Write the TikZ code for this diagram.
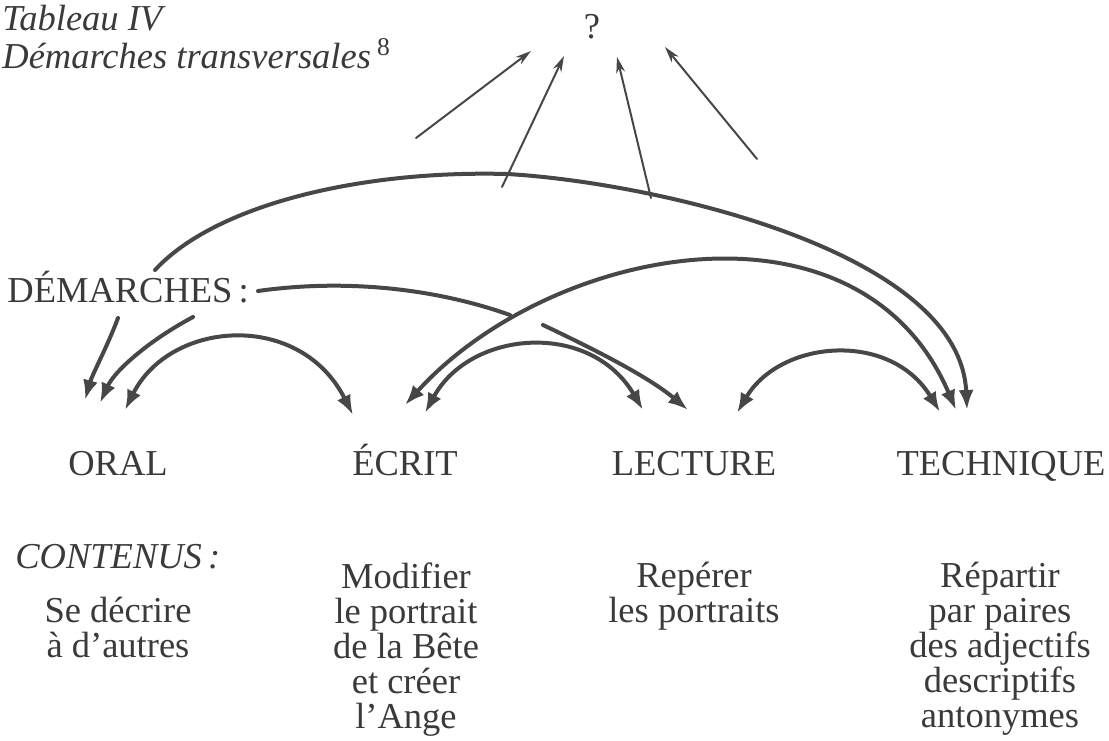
\documentclass[tikz,border=0pt]{standalone}
\usepackage{fontspec}
\setmainfont{Liberation Serif}
\usepackage{tikz}
\usetikzlibrary{arrows.meta}
\definecolor{ink}{HTML}{474747}
\definecolor{txt}{HTML}{3A3A3A}
\def\txtsize{\fontsize{18.25}{17.5}\selectfont}
\def\grosbout{Latex[length=10pt,width=7.5pt]}

\begin{document}
\begin{tikzpicture}[x=0.5pt,y=-0.5pt,
  lbl/.style={inner sep=0pt,text=txt,font=\txtsize},
  trait/.style={draw=ink,line width=2pt,line cap=round},
  fleche/.style={trait,-{\grosbout}},
  allerretour/.style={trait,{\grosbout}-{\grosbout}},
  vers/.style={draw=ink,line width=1pt,line cap=round,-{Stealth[length=8pt,width=4.5pt]}}]
\useasboundingbox (0,0) rectangle (1109,740);
% titres
\node[lbl,anchor=base west,font=\txtsize\itshape] (titre) at (2,30) {Tableau IV};
\node[lbl,anchor=base west,font=\txtsize\itshape] (soustitre) at (2,68) {Démarches transversales\,\textsuperscript{\upshape 8}};
\node[lbl,anchor=base] (q) at (592,38) {?};
\node[lbl,anchor=base west] (dem) at (7,302) {DÉMARCHES\,:};
% domaines
\node[lbl,anchor=base] (oral) at (118,475) {ORAL};
\node[lbl,anchor=base] (ecrit) at (405,475) {ÉCRIT};
\node[lbl,anchor=base] (lecture) at (694,475) {LECTURE};
\node[lbl,anchor=base] (technique) at (1001,475) {TECHNIQUE};
% contenus
\node[lbl,anchor=base west,font=\txtsize\itshape] (cont) at (15,568) {CONTENUS\,:};
\node[lbl,anchor=north,align=center] (coral) at (118,597) {Se décrire\\à d’autres};
\node[lbl,anchor=north,align=center] (cecrit) at (406,562) {Modifier\\le portrait\\de la Bête\\et créer\\l’Ange};
\node[lbl,anchor=north,align=center] (clecture) at (694,562) {Repérer\\les portraits};
\node[lbl,anchor=north,align=center] (ctechnique) at (1000,562) {Répartir\\par paires\\des adjectifs\\descriptifs\\antonymes};

% bouts des fleches
\coordinate (a1) at (416,138); \coordinate (a1q) at (531,51);
\coordinate (a2) at (502,187); \coordinate (a2q) at (564,56);
\coordinate (a3) at (651,198); \coordinate (a3q) at (617,57);
\coordinate (a4) at (757,159); \coordinate (a4q) at (665,47);
\coordinate (g0) at (155,270); \coordinate (g1) at (118,318); \coordinate (g2) at (193,317);
\coordinate (d0) at (258,291); \coordinate (d1) at (510,315); \coordinate (d2) at (543,325);
\coordinate (o1) at (85,400); \coordinate (o2) at (100,403); \coordinate (o3) at (125,410);
\coordinate (e1) at (353,415); \coordinate (e2) at (405,405); \coordinate (e3) at (425,413);
\coordinate (l1) at (643,410); \coordinate (l2) at (688,410); \coordinate (l3) at (737,413);
\coordinate (t1) at (940,412); \coordinate (t2) at (956,410); \coordinate (t3) at (967,410);

\draw[vers] (a1) -- (a1q);
\draw[vers] (a2) -- (a2q);
\draw[vers] (a3) -- (a3q);
\draw[vers] (a4) -- (a4q);

\draw[fleche] (g0) .. controls (215,205) and (360,170) .. (507,174) .. controls (650,182) and (960,250) .. (t3);
\draw[trait] (d0) .. controls (350,278) and (440,290) .. (d1);
\draw[fleche] (d2) .. controls (600,352) and (650,378) .. (l2);
\draw[fleche] (g1) .. controls (108,345) and (92,375) .. (o1);
\draw[fleche] (g2) .. controls (150,340) and (115,370) .. (o2);

\draw[allerretour] (o3) .. controls (170,320) and (300,310) .. (e1);
\draw[allerretour] (e2) .. controls (550,245) and (860,185) .. (t2);
\draw[allerretour] (e3) .. controls (470,330) and (590,320) .. (l1);
\draw[allerretour] (l3) .. controls (780,340) and (890,330) .. (t1);
\end{tikzpicture}
\end{document}
